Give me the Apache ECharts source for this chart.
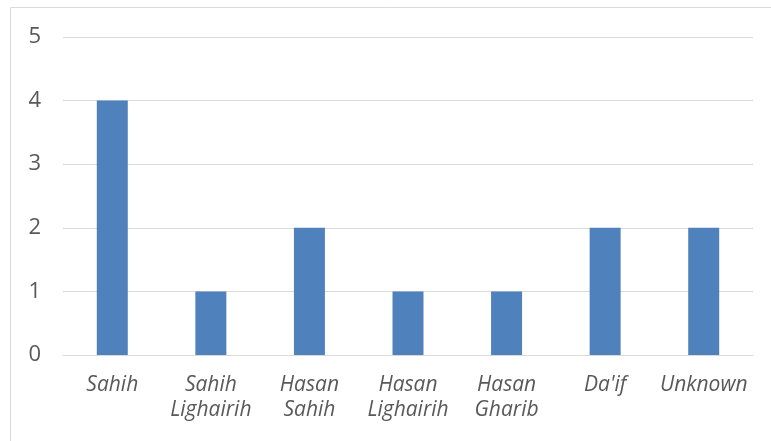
<!DOCTYPE html>
<html>
<head>
<meta charset="utf-8">
<script src="https://cdn.jsdelivr.net/npm/echarts@6/dist/echarts.min.js"></script>
<style>
  html, body { margin: 0; padding: 0; background: #fff; }
  #chart { width: 771px; height: 441px; }
</style>
</head>
<body>
<div id="chart"></div>
<script>
const categories = ['Sahih', 'Sahih\nLighairih', 'Hasan\nSahih', 'Hasan\nLighairih', 'Hasan\nGharib', "Da'if", 'Unknown']
const counts = [4, 1, 2, 1, 1, 2, 2]
const yTicks = [0, 1, 2, 3, 4, 5]

const chart = echarts.init(document.getElementById('chart'))

// label style shared by axes
const txt = { color: '#595959', fontFamily: 'Open Sans' }

const option = {
  animation: false,
  graphic: [{
    type: 'rect',
    shape: { x: 10.5, y: 7.5, width: 770, height: 440 },
    style: { fill: 'none', stroke: '#d9d9d9', lineWidth: 1 }
  }],
  grid: { left: 63, right: 18, top: 37, bottom: 86 },
  xAxis: {
    type: 'category',
    data: categories,
    axisLine: { show: true, lineStyle: { color: '#d9d9d9', width: 1 } },
    axisTick: { show: false },
    axisLabel: { ...txt, fontSize: 21, fontStyle: 'italic', margin: 18, lineHeight: 25, interval: 0, verticalAlign: 'top' }
  },
  yAxis: {
    type: 'value',
    min: yTicks[0],
    max: yTicks[yTicks.length - 1],
    interval: 1,
    axisLine: { show: false },
    axisTick: { show: false },
    axisLabel: { ...txt, fontSize: 22, margin: 22 },
    splitLine: { lineStyle: { color: '#d9d9d9', width: 1 } }
  },
  series: [{
    type: 'bar',
    data: counts,
    barWidth: 31,
    itemStyle: { color: '#4f81bd' }
  }]
}

chart.setOption(option)
</script>
</body>
</html>
